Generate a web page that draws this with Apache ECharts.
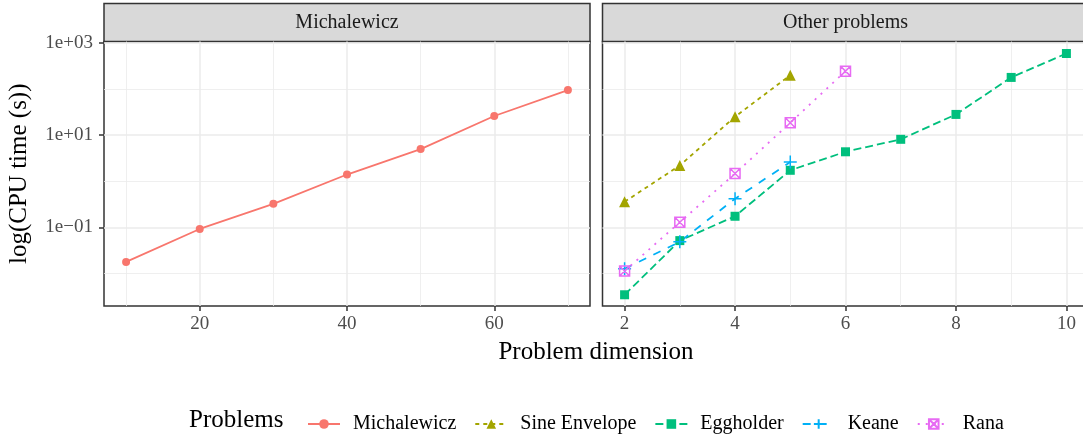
<!DOCTYPE html>
<html>
<head>
<meta charset="utf-8">
<script src="https://cdn.jsdelivr.net/npm/echarts@6/dist/echarts.min.js"></script>
<style>
html, body { margin: 0; padding: 0; background: #fff; }
#chart { width: 1083px; height: 437px; }
</style>
</head>
<body>
<div id="chart"></div>
<script>
// CPU time (s) per problem dimension
var michalewiczDims = [10, 20, 30, 40, 50, 60, 70];
var michalewiczTime = [0.018, 0.093, 0.325, 1.4, 4.97, 25.9, 94];
var otherDims = [2, 3, 4, 5, 6, 7, 8, 9, 10];
var sineEnvelopeTime = [0.36, 2.2, 25, 198];
var eggholderTime = [0.0035, 0.052, 0.175, 1.73, 4.35, 8.1, 28, 177, 583];
var keaneTime = [0.0128, 0.049, 0.42, 2.6];
var ranaTime = [0.0114, 0.13, 1.47, 18.5, 242];

var seriesNames = ['Michalewicz', 'Sine Envelope', 'Eggholder', 'Keane', 'Rana'];
var panelNames = ['Michalewicz', 'Other problems'];

// ticks
var leftMajor = [20, 40, 60];
var leftMinor = [10, 30, 50, 70];
var rightMajor = [2, 4, 6, 8, 10];
var rightMinor = [3, 5, 7, 9];
var yTickValues = [0.1, 10, 1000];
var yTickLabels = ['1e\u221201', '1e+01', '1e+03'];
var yMinorValues = [0.01, 1, 100];

var FONT = '"Liberation Serif", "DejaVu Serif", serif';
var panelTop = 41.5, panelH = 264.5, panelW = 486;
var leftX = 104, rightX = 602.5;

function pairs(xs, ys) {
    var out = [];
    for (var i = 0; i < ys.length; i++) out.push([xs[i], ys[i]]);
    return out;
}

function xAxes(grid, min, max, major, minor) {
    return [{
        type: 'value', gridIndex: grid, min: min, max: max,
        axisLine: { show: false },
        axisTick: { show: true, length: 5, customValues: major, lineStyle: { color: '#333', width: 1.5 } },
        axisLabel: { customValues: major, color: '#4d4d4d', fontFamily: FONT, fontSize: 19, margin: 9 },
        splitLine: { show: true, lineStyle: { color: '#ebebeb', width: 1.5 } }
    }, {
        type: 'value', gridIndex: grid, min: min, max: max, position: 'bottom',
        axisLine: { show: false },
        axisTick: { show: false, customValues: minor },
        axisLabel: { show: false },
        splitLine: { show: true, lineStyle: { color: '#ebebeb', width: 0.8 } }
    }]
}

function yAxes(grid, showLabels) {
    return [{
        type: 'log', logBase: 10, gridIndex: grid, min: 0.002, max: 1060,
        axisLine: { show: false },
        axisTick: { show: showLabels, length: 5, customValues: yTickValues, lineStyle: { color: '#333', width: 1.5 } },
        axisLabel: {
            show: showLabels, customValues: yTickValues, color: '#4d4d4d', fontFamily: FONT, fontSize: 19, margin: 11,
            formatter: function (v) {
                var i = yTickValues.indexOf(v)
                return i >= 0 ? yTickLabels[i] : ''
            }
        },
        splitLine: { show: true, lineStyle: { color: '#ebebeb', width: 1.5 } },
        name: showLabels ? 'log(CPU time (s))' : '',
        nameLocation: 'middle',
        nameGap: 72,
        nameTextStyle: { fontFamily: FONT, fontSize: 25, color: '#000' }
    }, {
        type: 'log', logBase: 10, gridIndex: grid, min: 0.002, max: 1060, position: 'left',
        axisLine: { show: false },
        axisTick: { show: false, customValues: yMinorValues },
        axisLabel: { show: false },
        splitLine: { show: true, lineStyle: { color: '#ebebeb', width: 0.8 } }
    }]
}

var plusPath = 'path://M5,0 L5,10 M0,5 L10,5';
var crossBoxPath = 'path://M0,0 L10,0 L10,10 L0,10 Z M0,0 L10,10 M10,0 L0,10';

function line(name, grid, data, color, dash, symbol, size, hollow) {
    var s = {
        name: name, type: 'line',
        xAxisIndex: grid * 2, yAxisIndex: grid * 2,
        data: data,
        symbol: symbol, symbolSize: size, showAllSymbol: true,
        lineStyle: { color: color, width: 1.8, type: dash },
        itemStyle: { color: color },
        z: 3
    }
    if (hollow) s.itemStyle = { color: 'none', borderColor: color, borderWidth: 1.5 }
    return s
}

var chart = echarts.init(document.getElementById('chart'));
var option = {
    animation: false,
    backgroundColor: '#fff',
    grid: [
        { left: leftX, top: panelTop, width: panelW, height: panelH, outerBoundsMode: 'none', show: true, backgroundColor: '#fff', borderColor: '#333', borderWidth: 1.5 },
        // right panel runs past the page edge, as in the original
        { left: rightX, top: panelTop, width: panelW, height: panelH, outerBoundsMode: 'none', show: true, backgroundColor: '#fff', borderColor: '#333', borderWidth: 1.5 }
    ],
    xAxis: xAxes(0, 7, 73, leftMajor, leftMinor).concat(xAxes(1, 1.6, 10.4, rightMajor, rightMinor)),
    yAxis: yAxes(0, true).concat(yAxes(1, false)),
    legend: {
        left: 302, top: 409,
        itemWidth: 32, itemHeight: 12, itemGap: 18,
        textStyle: { fontFamily: FONT, fontSize: 20, color: '#000', padding: [0, 0, 0, 8] },
        data: seriesNames
    },
    graphic: [
        { type: 'rect', shape: { x: leftX, y: 3.5, width: panelW, height: 38 }, style: { fill: '#d9d9d9', stroke: '#333', lineWidth: 1.5 } },
        { type: 'rect', shape: { x: rightX, y: 3.5, width: panelW, height: 38 }, style: { fill: '#d9d9d9', stroke: '#333', lineWidth: 1.5 } },
        { type: 'text', x: leftX + panelW / 2, y: 22.5, style: { text: panelNames[0], fill: '#1a1a1a', fontFamily: FONT, fontSize: 20, align: 'center', verticalAlign: 'middle' } },
        { type: 'text', x: rightX + panelW / 2, y: 22.5, style: { text: panelNames[1], fill: '#1a1a1a', fontFamily: FONT, fontSize: 20, align: 'center', verticalAlign: 'middle' } },
        { type: 'text', x: 596, y: 352, style: { text: 'Problem dimension', fill: '#000', fontFamily: FONT, fontSize: 25, align: 'center', verticalAlign: 'middle' } },
        { type: 'text', x: 189, y: 420, style: { text: 'Problems', fill: '#000', fontFamily: FONT, fontSize: 25, align: 'left', verticalAlign: 'middle' } }
    ],
    series: [
        line('Michalewicz', 0, pairs(michalewiczDims, michalewiczTime), '#F8766D', 'solid', 'circle', 8),
        line('Sine Envelope', 1, pairs(otherDims, sineEnvelopeTime), '#A3A500', [4, 4], 'triangle', 11),
        line('Eggholder', 1, pairs(otherDims, eggholderTime), '#00BF7D', [8, 4], 'rect', 9),
        line('Keane', 1, pairs(otherDims, keaneTime), '#00B0F6', [8, 8], plusPath, 13, true),
        line('Rana', 1, pairs(otherDims, ranaTime), '#E76BF3', [2, 6], crossBoxPath, 10, true)
    ]
};
chart.setOption(option);
</script>
</body>
</html>
